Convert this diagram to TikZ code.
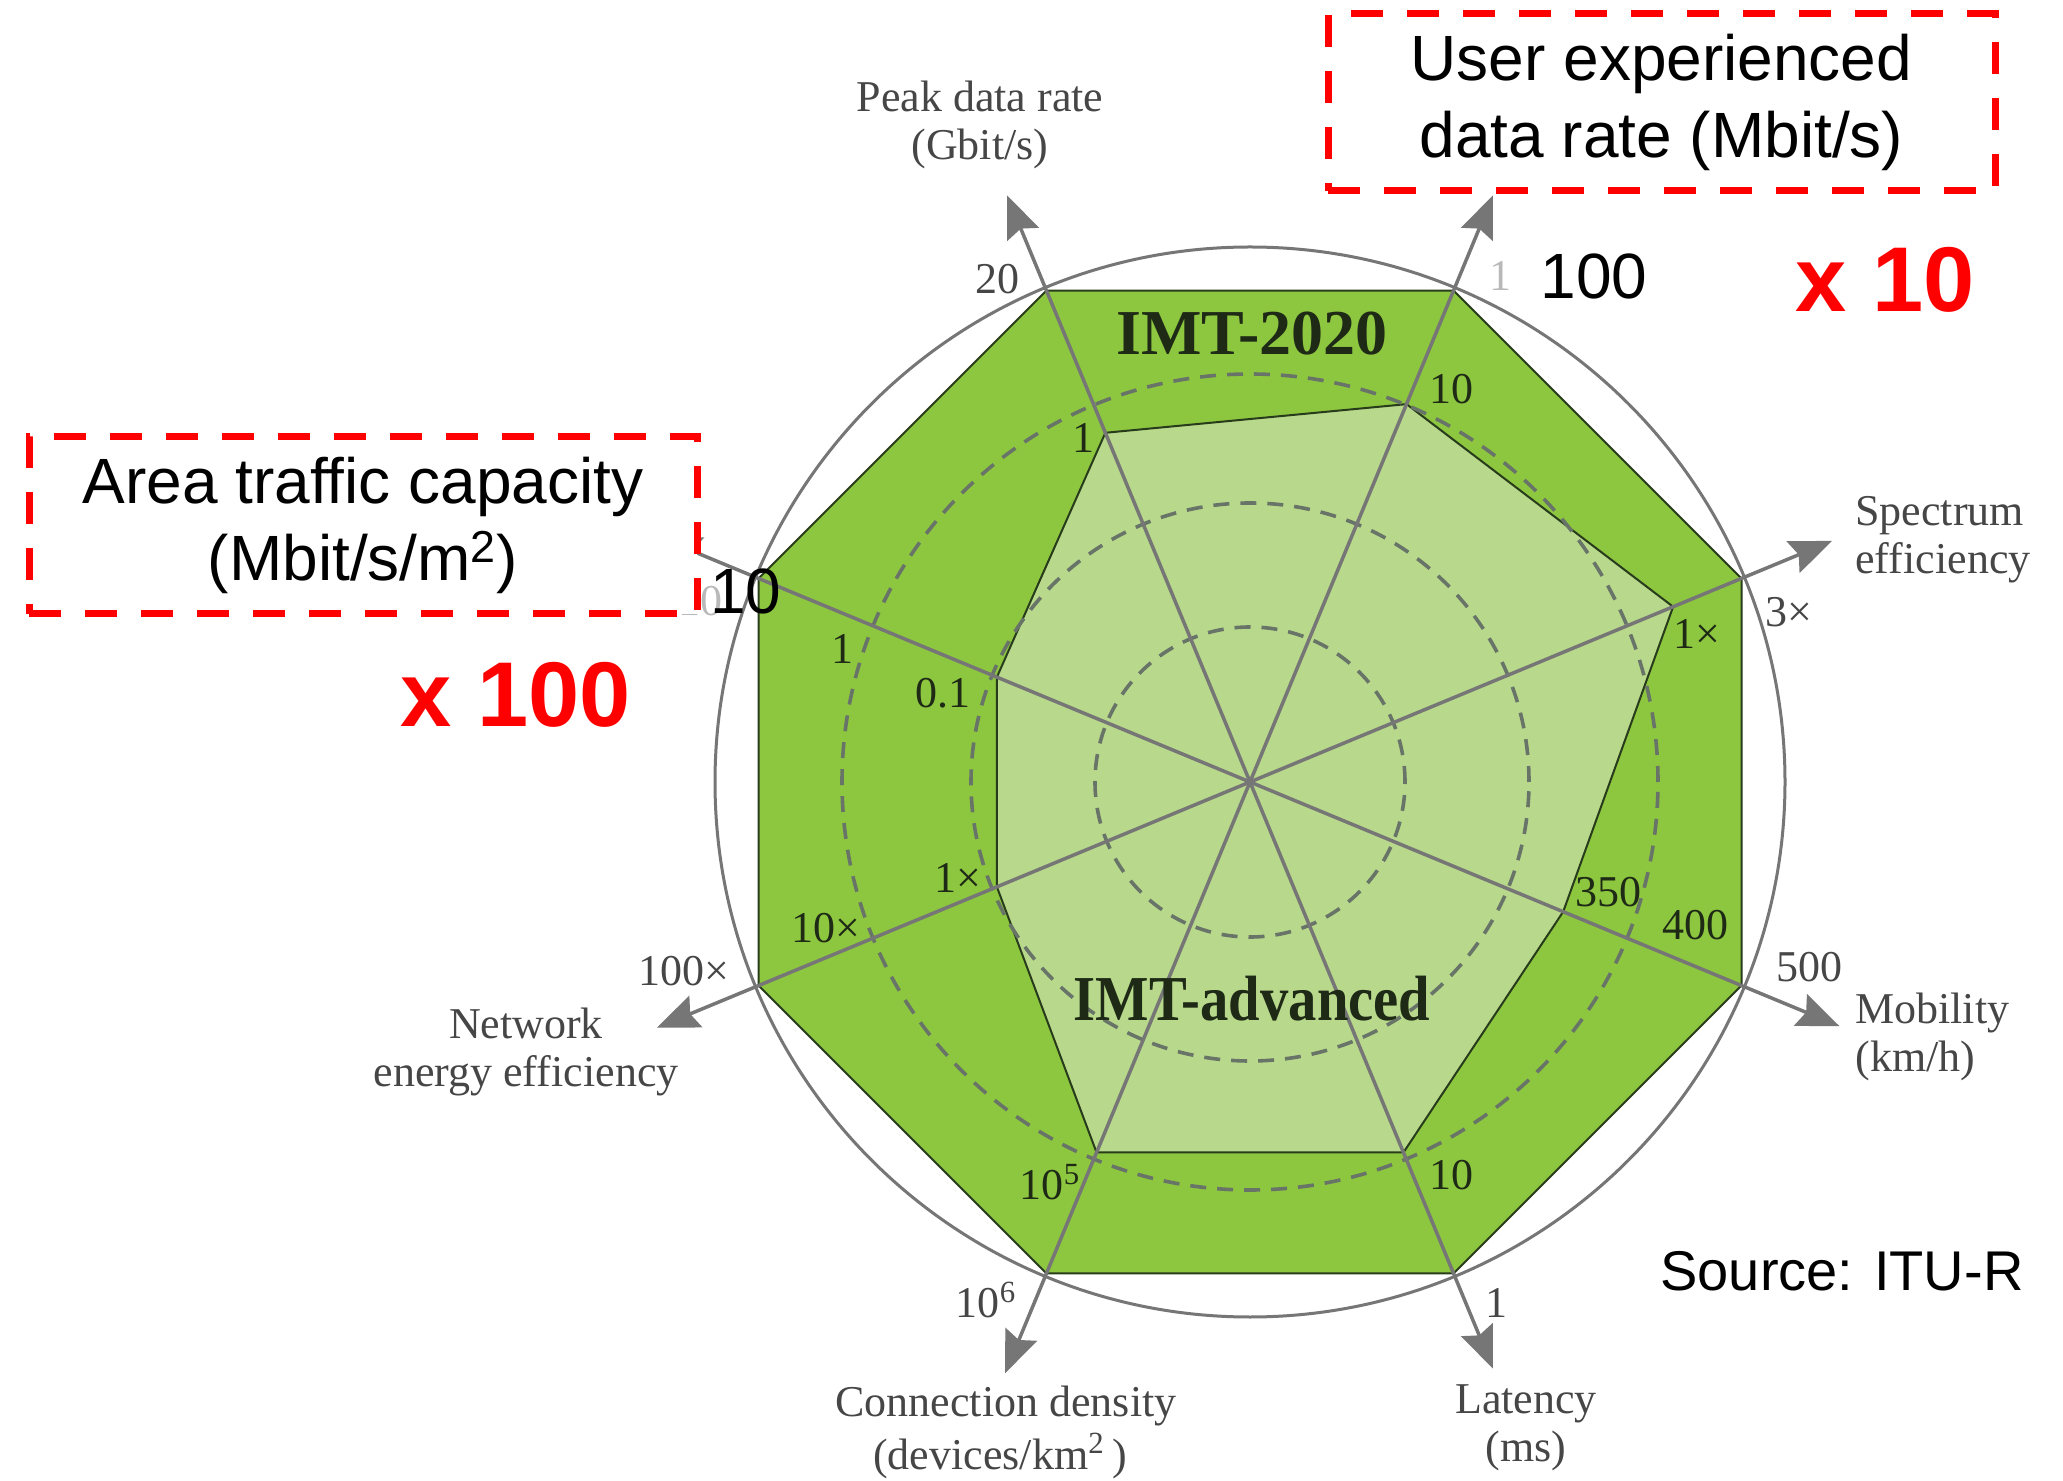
\documentclass[tikz,border=0pt]{standalone}
\usepackage{fontspec}
\setmainfont{Liberation Serif}
\newfontfamily\arial{Liberation Sans}
\usetikzlibrary{arrows.meta,calc}
\definecolor{dkgreen}{RGB}{141,198,63}
\definecolor{ltgreen}{RGB}{184,217,139}
\definecolor{edgegreen}{RGB}{40,60,28}
\definecolor{axisgray}{RGB}{118,118,118}
\definecolor{dashgray}{RGB}{105,116,105}
\definecolor{titlegray}{RGB}{70,70,70}
\definecolor{tickdark}{RGB}{30,42,22}
\definecolor{fadegray}{RGB}{185,185,185}
\begin{document}
\begin{tikzpicture}[x=0.5pt,y=0.5pt,
 axisline/.style={draw=axisgray, line width=1.75pt, -{Stealth[length=21pt,width=17pt,inset=3pt]}},
 ticklab/.style={font=\fontsize{22}{24}\selectfont, text=tickdark, inner sep=0pt},
 tickout/.style={ticklab, text=titlegray},
 axtitle/.style={font=\fontsize{22}{24}\selectfont, text=titlegray, align=center, inner sep=0pt},
 imt/.style={font=\bfseries\fontsize{32}{36}\selectfont, text=tickdark, inner sep=0pt},
 rbox/.style={draw=red, line width=3.5pt, dash pattern=on 16pt off 12pt, fill=white, align=center, inner sep=0pt, font=\arial\fontsize{32}{38.5}\selectfont},
 redmult/.style={text=red, font=\arial\bfseries\fontsize{46}{50}\selectfont, inner sep=0pt},
 newnum/.style={font=\arial\fontsize{32}{36}\selectfont, inner sep=0pt, text=black},
]
\useasboundingbox (0,0) rectangle (2063,1480);
\fill[white] (0,0) rectangle (2063,1480);

\begin{scope}[shift={(1250,698)}]
  \coordinate (c) at (0,0);
  % IMT-2020 octagon
  \path[fill=dkgreen, draw=edgegreen, line width=1pt]
    (22.5:532) -- (67.5:532) -- (112.5:532) -- (157.5:532) -- (202.5:532)
    -- (247.5:532) -- (292.5:532) -- (337.5:532) -- cycle;
  % IMT-advanced polygon
  \path[fill=ltgreen, draw=edgegreen, line width=1pt]
    (22.5:458) -- (67.5:409) -- (112.5:378) -- (157.5:274) -- (202.5:274)
    -- (247.5:401) -- (292.5:401) -- (337.5:339) -- cycle;
  % dashed rings
  \foreach \r in {155,279,408}
    \draw[dashgray, line width=1.8pt, dash pattern=on 8pt off 5.5pt] (c) circle[radius=\r];
  % outer circle
  \draw[axisgray, line width=1.5pt] (c) circle[radius=535];
  % axis end points
  \coordinate (aPeak) at (112.5:635);
  \coordinate (aUser) at (67.5:635);
  \coordinate (aSpec) at (22.5:630);
  \coordinate (aMob) at (-22.5:638);
  \coordinate (aLat) at (-67.5:635);
  \coordinate (aConn) at (-112.5:640);
  \coordinate (aNet) at (-157.5:642);
  \coordinate (aArea) at (157.5:640);
  \foreach \e in {aPeak,aUser,aSpec,aMob,aLat,aConn,aNet,aArea}
    \draw[axisline] (c) -- (\e);
\end{scope}

% axis titles
\node[axtitle] (tPeak) at (980,1355) {Peak data rate\\(Gbit/s)};
\node[axtitle, anchor=west, align=left] (tSpec) at (1855,940) {Spectrum\\efficiency};
\node[axtitle, anchor=west, align=left] (tMob) at (1855,443) {Mobility\\(km/h)};
\node[axtitle] (tLat) at (1526,52) {Latency\\(ms)};
\node[axtitle] (tConn1) at (1006,74) {Connection density};
\node[axtitle] (tConn2) at (1000,24) {(devices/km\textsuperscript{2}\,)};
\node[axtitle] (tNet) at (526,428) {Network\\energy efficiency};

% IMT labels
\node[imt] (imt2020) at (1252,1146) {IMT-2020};
\node[imt, xscale=0.885] (imtadv) at (1252,481) {IMT-advanced};

% tick labels
\node[tickout] (k20) at (997,1201) {20};
\node[ticklab] (kPeak1) at (1083,1042) {1};
\node[ticklab, text=fadegray] (kUserOld) at (1500,1204) {1};
\node[ticklab] (kUser10) at (1451,1091) {10};
\node[tickout] (kSpec3) at (1789,868) {3×};
\node[ticklab] (kSpec1) at (1697,846) {1×};
\node[ticklab] (k350) at (1608,588) {350};
\node[ticklab] (k400) at (1695,555) {400};
\node[tickout] (k500) at (1809,513) {500};
\node[ticklab] (kLat10) at (1451,305) {10};
\node[tickout] (kLat1) at (1496,177) {1};
\node[ticklab] (k105) at (1050,298) {10\textsuperscript{5}};
\node[tickout] (k106) at (986,180) {10\textsuperscript{6}};
\node[tickout] (k100x) at (684,509) {100×};
\node[ticklab] (k10x) at (826,552) {10×};
\node[ticklab] (k1x) at (958,602) {1×};
\node[ticklab] (kArea1) at (842,831) {1};
\node[ticklab] (kArea01) at (943,787) {0.1};
\node[ticklab, text=fadegray] (kAreaOld) at (700,879) {10};

% red boxes
\node[rbox, minimum width=334pt, minimum height=88.5pt] (areaBox) at (363,954.5)
  {Area traffic capacity\\(Mbit/s/m\textsuperscript{2})};
\node[rbox, minimum width=333.5pt, minimum height=88.5pt] (userBox) at (1661.5,1377.5)
  {User experienced\\data rate (Mbit/s)};

% overlaid new values
\node[newnum] (nArea) at (746,889) {10};
\node[newnum] (nUser) at (1594,1204) {100};

\node[redmult] (mUser) at (1885,1200) {x 10};
\node[redmult] (mArea) at (516,785) {x 100};

\node[font=\arial\fontsize{28}{32}\selectfont, inner sep=0pt] (src) at (1842,209) {Source: ITU-R};
\end{tikzpicture}
\end{document}
